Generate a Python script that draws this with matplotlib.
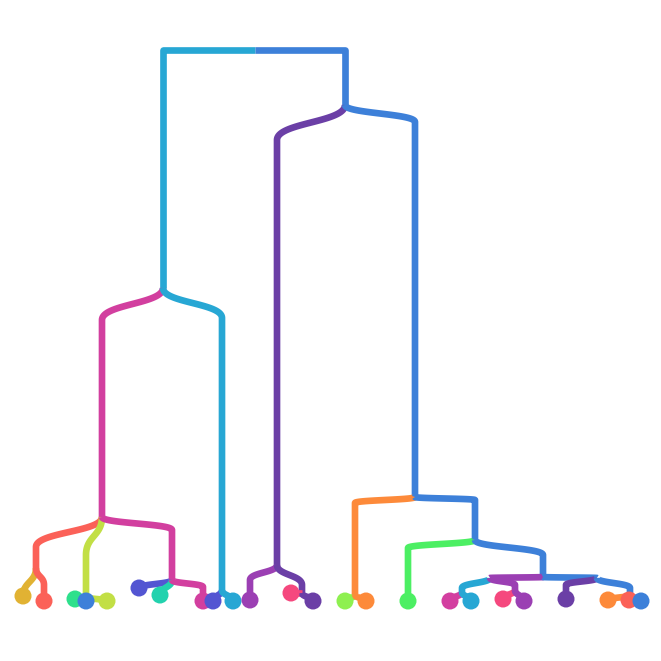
import numpy as np
import matplotlib
matplotlib.use("Agg")
import matplotlib.pyplot as plt

# dendrogram nodes: parent index, horizontal position, merge height, colour
node_parent = [-1, 0, 0, 1, 1, 3, 5, 5, 3, 8, 8, 8, 3, 12, 12, 12, 4, 4,
               2, 2, 18, 18, 21, 21, 19, 24, 24, 19, 27, 27, 29, 29, 30, 32,
               32, 30, 35, 35, 31, 31, 39, 39, 39]
node_x = [255, 163, 345, 102, 222, 36, 23, 44, 86, 75, 86, 107, 172, 139, 160,
          203, 213, 233, 277, 415, 250, 302, 291, 313, 355, 345, 366, 475, 408,
          543, 490, 597, 462, 450, 471, 515, 503, 524, 566, 630, 608, 629, 641]
node_height = [551, 313, 496, 84, 11, 33, 5, 0, 4, 2, 0, 0, 21, 13, 6, 0, 0, 0,
               36, 104, 1, 8, 8, 0, 6, 0, 0, 61, 0, 24, 23, 23, 9, 0, 0, 11, 2,
               0, 2, 6, 1, 1, 0]
# how far an edge drops before turning vertical (None = straight to the child)
edge_bend = [None, 0, 0, 32, 30, 30, None, 17, 38, None, None, None, 13, None,
             None, 7, None, None, 35, 17, 15, 20, None, None, 6, None, None, 3,
             8, 15, None, None, 10, None, None, 7, None, None, 7, 10, None,
             None, None]
node_color = ["#3d80d9", "#27a7d4", "#3d80d9", "#d23f9f", "#27a7d4", "#fb6158",
              "#e1b233", "#fb6158", "#c2df45", "#2ee08c", "#3d80d9", "#c2df45",
              "#d23f9f", "#5355d2", "#22d2ae", "#d23f9f", "#5355d2", "#27a7d4",
              "#6b3fa6", "#3d80d9", "#9b3fb3", "#6b3fa6", "#f5487e", "#6b3fa6",
              "#fd8a3a", "#8ef050", "#fd8a3a", "#3d80d9", "#4cef63", "#3d80d9",
              "#9b3fb3", "#3d80d9", "#27a7d4", "#d33fa0", "#27a7d4", "#9b3fb3",
              "#f5487e", "#9b3fb3", "#6b3fa6", "#3d80d9", "#fd8a3a", "#fb6158",
              "#3d80d9"]


def edge_path(xp, hp, xc, hc, bend):
    knee = hc if bend is None else hp - bend
    t = np.linspace(0, 1, 60)[:, None]
    p0 = np.array([xp, hp])
    p1 = np.array([xp, hp - (hp - knee) * 0.5])
    p2 = np.array([xc, knee + (hp - knee) * 0.5])
    p3 = np.array([xc, knee])
    curve = ((1 - t) ** 3 * p0 + 3 * (1 - t) ** 2 * t * p1
             + 3 * (1 - t) * t ** 2 * p2 + t ** 3 * p3)
    pts = np.vstack([curve, [[xc, hc]]])
    return pts[:, 0], pts[:, 1]


fig = plt.figure(figsize=(6.61, 6.61), dpi=100)
ax = fig.add_axes([0, 0, 1, 1])

for i, par in enumerate(node_parent):
    if par < 0:
        continue
    xs, ys = edge_path(node_x[par], node_height[par], node_x[i], node_height[i], edge_bend[i])
    ax.plot(xs, ys, color=node_color[i], lw=4.8, solid_capstyle="butt",
            solid_joinstyle="round", zorder=1)

leaves = [i for i in range(len(node_x)) if i not in node_parent]
ax.scatter([node_x[i] for i in leaves], [node_height[i] for i in leaves],
           s=150, c=[node_color[i] for i in leaves], linewidths=0, zorder=2)

ax.set_xlim(0, 661)
ax.set_ylim(-60, 601)
ax.axis("off")

fig.savefig("out.png", dpi=100, facecolor="white")
